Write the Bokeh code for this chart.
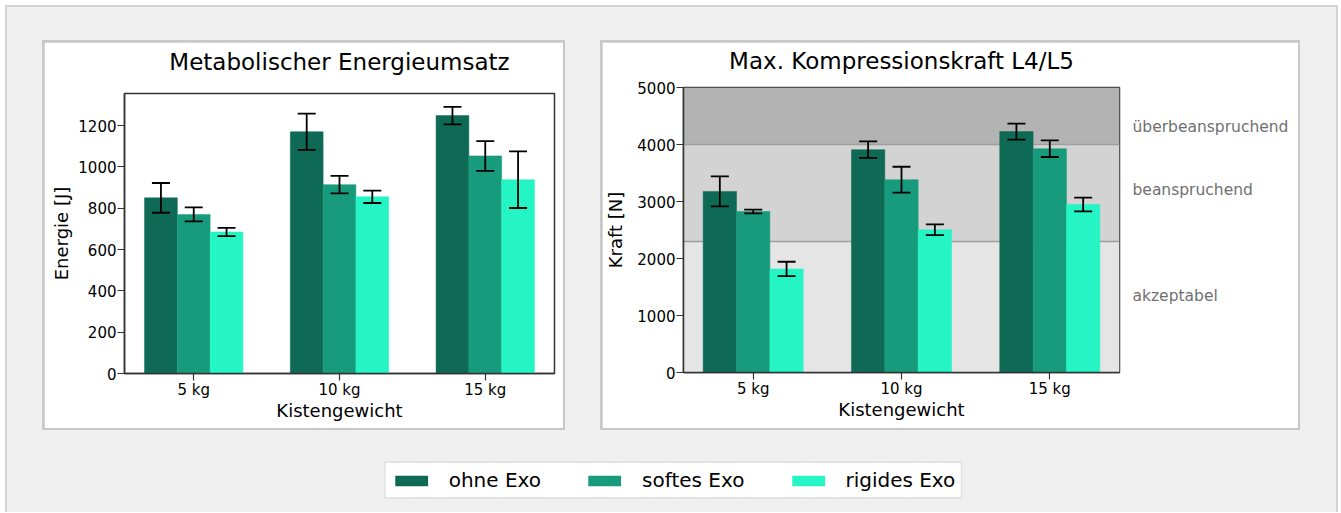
from bokeh.plotting import figure
from bokeh.layouts import column, row
from bokeh.models import (Spacer, Range1d, FixedTicker, Whisker, TeeHead, ColumnDataSource,
                          LinearAxis, BoxAnnotation, Span)
from bokeh.embed import file_html
from bokeh.resources import INLINE

# ---------------- data ----------------
categories = ["5 kg", "10 kg", "15 kg"]
series = ["ohne Exo", "softes Exo", "rigides Exo"]
colors = ["#0e6a55", "#179b7c", "#25f5c4"]

energy_ohne = [850, 1170, 1248]
energy_softes = [770, 914, 1053]
energy_rigides = [685, 855, 938]
energy_err_ohne = [72, 88, 42]
energy_err_softes = [34, 42, 72]
energy_err_rigides = [20, 30, 137]

force_ohne = [3177, 3910, 4226]
force_softes = [2825, 3382, 3927]
force_rigides = [1817, 2503, 2948]
force_err_ohne = [264, 146, 140]
force_err_softes = [32, 228, 146]
force_err_rigides = [126, 94, 120]

zone_edges = [0, 2300, 4000, 5000]
zone_labels = ["akzeptabel", "beanspruchend", "überbeanspruchend"]
zone_colors = ["#e5e5e5", "#d3d3d3", "#b3b3b3"]
zone_label_pos = [1350, 3200, 4300]

energy_ticks = [0, 200, 400, 600, 800, 1000, 1200]
force_ticks = [0, 1000, 2000, 3000, 4000, 5000]

BAR_W = 0.225
FONT = "DejaVu Sans"


def style_fig(p, ylabel, yticks, ylabel_standoff):
    p.outline_line_color = "#333333"
    p.outline_line_width = 1.5
    p.xgrid.visible = False
    p.ygrid.visible = False
    p.background_fill_color = "white"
    p.border_fill_color = "white"
    p.xaxis.ticker = FixedTicker(ticks=list(range(len(categories))))
    p.xaxis.major_label_overrides = {i: c for i, c in enumerate(categories)}
    p.xaxis.axis_label = "Kistengewicht"
    p.yaxis.axis_label = ylabel
    p.yaxis.ticker = FixedTicker(ticks=yticks)
    for ax in (p.xaxis[0], p.yaxis[0]):
        ax.axis_line_color = "#333333"
        ax.axis_line_width = 1.5
        ax.major_tick_in = 0
        ax.major_tick_out = 7
        ax.major_tick_line_color = "#333333"
        ax.major_tick_line_width = 1.2
        ax.minor_tick_line_color = None
        ax.major_label_text_font = FONT
        ax.major_label_text_font_size = "15px"
        ax.major_label_text_color = "black"
        ax.axis_label_text_font = FONT
        ax.axis_label_text_font_size = "18px"
        ax.axis_label_text_font_style = "normal"
        ax.axis_label_text_color = "black"
    p.xaxis.major_label_standoff = 0
    p.xaxis.axis_label_standoff = -2
    p.yaxis.major_label_standoff = 1
    p.yaxis.axis_label_standoff = ylabel_standoff


def add_title(p, text, gap):
    # title drawn as the single label of a bare axis above the frame
    t = LinearAxis(ticker=FixedTicker(ticks=[1]), major_label_overrides={1: text},
                   axis_line_color=None, major_tick_line_color=None, minor_tick_line_color=None,
                   major_tick_in=0, major_tick_out=0,
                   major_label_text_font=FONT, major_label_text_font_size="23px",
                   major_label_text_color="black", major_label_standoff=gap)
    p.add_layout(t, "above")


def add_bars(p, vals, errs):
    n = len(vals)
    for k in range(n):
        off = (k - (n - 1) / 2) * BAR_W
        xs = [i + off for i in range(len(categories))]
        p.vbar(x=xs, top=vals[k], width=BAR_W, fill_color=colors[k],
               line_color=colors[k], line_width=0.5)
        src = ColumnDataSource(dict(
            x=xs,
            upper=[v + e for v, e in zip(vals[k], errs[k])],
            lower=[v - e for v, e in zip(vals[k], errs[k])],
        ))
        w = Whisker(base="x", upper="upper", lower="lower", source=src, level="annotation",
                    line_color="black", line_width=1.8,
                    upper_head=TeeHead(size=18, line_color="black", line_width=1.8),
                    lower_head=TeeHead(size=18, line_color="black", line_width=1.8))
        p.add_layout(w)


def framed(p):
    # 2px grey ring around the white panel (grey background shows around the figure)
    return column(Spacer(width=2, height=2),
                  row(Spacer(width=2, height=2), p, Spacer(width=2, height=2)),
                  Spacer(width=2, height=2),
                  styles={"background-color": "#c8c8c8"})


# ---------------- left chart ----------------
p1 = figure(width=519, height=386,
            x_range=Range1d(-0.475, 2.475), y_range=Range1d(0, 1355),
            output_backend="svg", toolbar_location=None,
            min_border_left=80, min_border_right=9, min_border_top=51, min_border_bottom=55)
style_fig(p1, "Energie [J]", energy_ticks, 3)
add_title(p1, "Metabolischer Energieumsatz", 19)
add_bars(p1, [energy_ohne, energy_softes, energy_rigides],
         [energy_err_ohne, energy_err_softes, energy_err_rigides])

# ---------------- right chart ----------------
p2 = figure(width=696, height=386,
            x_range=Range1d(-0.47, 2.47), y_range=Range1d(zone_edges[0], zone_edges[-1]),
            output_backend="svg", toolbar_location=None,
            min_border_left=81, min_border_right=179, min_border_top=45, min_border_bottom=56)
style_fig(p2, "Kraft [N]", force_ticks, 8)
for i in range(len(zone_labels)):
    p2.add_layout(BoxAnnotation(bottom=zone_edges[i], top=zone_edges[i + 1],
                                fill_color=zone_colors[i], fill_alpha=1.0,
                                line_color=None, level="underlay"))
for e in zone_edges[1:-1]:
    p2.add_layout(Span(location=e, dimension="width", line_color="#9e9e9e",
                       line_width=1.5, level="underlay"))
add_title(p2, "Max. Kompressionskraft L4/L5", 14)
add_bars(p2, [force_ohne, force_softes, force_rigides],
         [force_err_ohne, force_err_softes, force_err_rigides])
zone_axis = LinearAxis(ticker=FixedTicker(ticks=zone_label_pos),
                       major_label_overrides={pos: lab for pos, lab in zip(zone_label_pos, zone_labels)},
                       axis_line_color=None, major_tick_line_color=None, minor_tick_line_color=None,
                       major_tick_in=0, major_tick_out=0,
                       major_label_text_font=FONT, major_label_text_font_size="15.5px",
                       major_label_text_color="#707070", major_label_standoff=13)
p2.add_layout(zone_axis, "right")

# ---------------- legend ----------------
pl = figure(width=700, height=40, x_range=Range1d(-0.5, 2.5), y_range=Range1d(0, 1),
            output_backend="svg", toolbar_location=None,
            min_border=0, min_border_left=0, min_border_right=0, min_border_top=0, min_border_bottom=0)
pl.axis.visible = False
pl.xgrid.visible = False
pl.ygrid.visible = False
pl.outline_line_color = None
pl.background_fill_color = None
pl.border_fill_color = None
for name, c, vals in zip(series, colors, [energy_ohne, energy_softes, energy_rigides]):
    # hidden proxies: only their legend swatches are drawn
    r = pl.vbar(x=list(range(len(categories))), top=vals, width=BAR_W,
                fill_color=c, line_color=None, legend_label=name)
    r.visible = False
lg = pl.legend[0]
lg.location = "center"
lg.orientation = "horizontal"
lg.label_text_font = FONT
lg.label_text_font_size = "20px"
lg.label_text_color = "black"
lg.glyph_width = 41
lg.glyph_height = 13
lg.label_standoff = 17
lg.spacing = 43
lg.padding = 5
lg.margin = 0
lg.border_line_color = "#c8c8c8"
lg.border_line_width = 2
lg.background_fill_color = "white"
lg.background_fill_alpha = 1.0

# ---------------- layout ----------------
root = column(
    Spacer(width=10, height=33),
    row(Spacer(width=35, height=10), framed(p1), Spacer(width=35, height=10), framed(p2)),
    Spacer(width=10, height=30),
    row(Spacer(width=316, height=10), pl),
    width=1333, height=507,
    styles={"background-color": "#f0f0f0", "border": "2px solid #d4d4d4", "border-bottom": "none"},
)
page = column(Spacer(width=10, height=5), row(Spacer(width=5, height=10), root))

open("out.html", "w").write(file_html(page, INLINE))
